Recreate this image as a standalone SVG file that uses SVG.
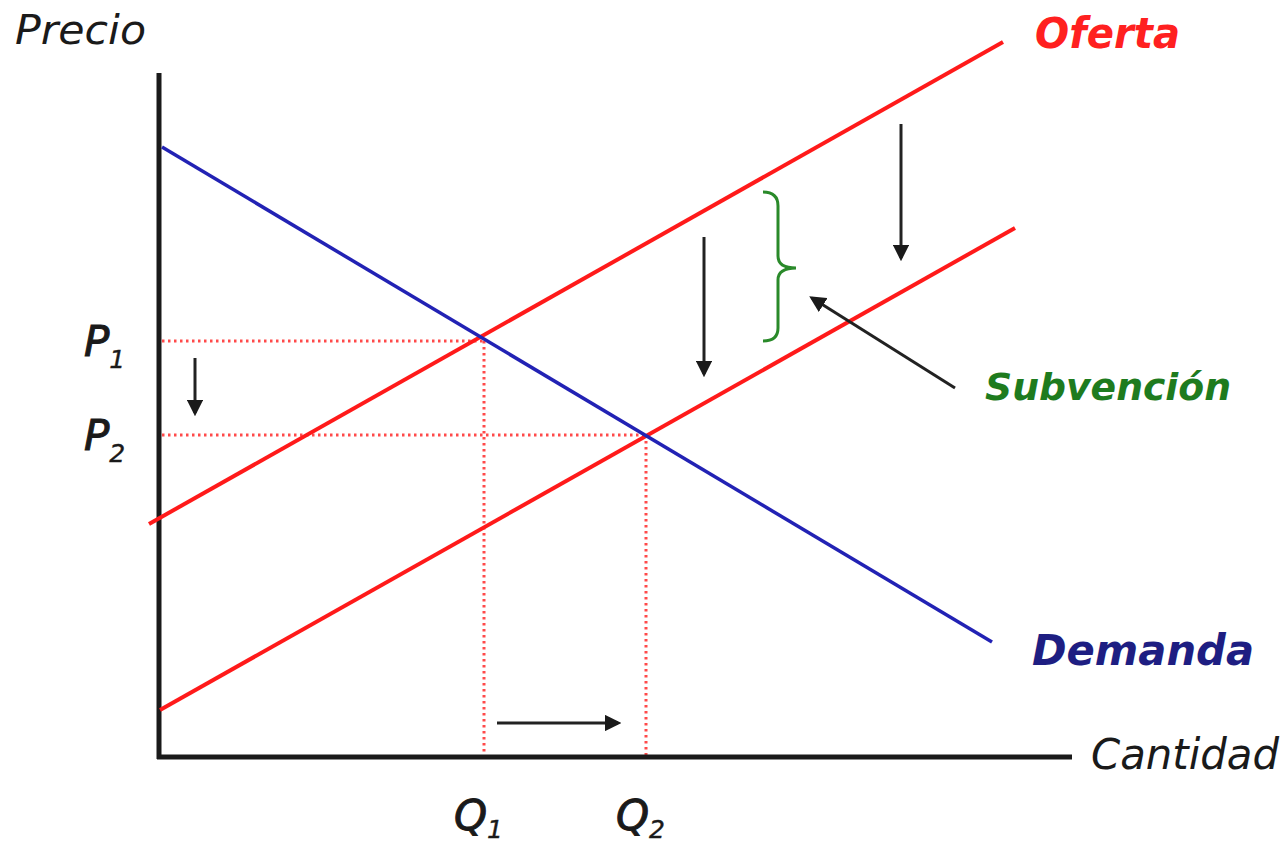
<svg xmlns="http://www.w3.org/2000/svg" width="1284" height="845" viewBox="0 0 1284 845">
<style>
.t{font-family:"DejaVu Sans","Verdana",sans-serif;font-style:oblique}
.b{font-weight:bold}
.m{stroke:#1a1a1a;stroke-width:1}
.ax{stroke:#1a1a1a;stroke-width:5;fill:none}
.sup{stroke:#ff1a1a;stroke-width:4;fill:none}
.dem{stroke:#2222b4;stroke-width:3.5;fill:none}
.dot{stroke:#ff4a4a;stroke-width:3;stroke-dasharray:2.5 3.5;fill:none}
.arr{stroke:#222;stroke-width:3;fill:none}
</style>
<defs>
<marker id="ah" viewBox="0 0 10 10" refX="8" refY="5" markerWidth="5.5" markerHeight="5.5" orient="auto" markerUnits="strokeWidth">
<path d="M0,0 L10,5 L0,10 Z" fill="#1a1a1a"/>
</marker>
</defs>
<rect width="1284" height="845" fill="#fff"/>
<g id="guides">
<line class="dot" x1="162" y1="341" x2="484" y2="341"/>
<line class="dot" x1="162" y1="435" x2="645" y2="435"/>
<line class="dot" x1="484" y1="341" x2="484" y2="755"/>
<line class="dot" x1="646" y1="435" x2="646" y2="755"/>
</g>
<g id="axes">
<line class="ax" x1="159" y1="73" x2="159" y2="759"/>
<line class="ax" x1="157" y1="757" x2="1072" y2="757"/>
</g>
<g id="curves">
<line id="oferta1" class="sup" x1="149" y1="524" x2="1003" y2="42"/>
<line id="oferta2" class="sup" x1="160" y1="710" x2="1015" y2="228"/>
<line id="demanda" class="dem" x1="162" y1="147" x2="992" y2="642"/>
</g>
<g id="connectors">
<line class="arr" x1="195" y1="358" x2="195" y2="413" marker-end="url(#ah)"/>
<line class="arr" x1="704" y1="237" x2="704" y2="374" marker-end="url(#ah)"/>
<line class="arr" x1="901" y1="124" x2="901" y2="258" marker-end="url(#ah)"/>
<line class="arr" x1="497" y1="723" x2="618" y2="723" marker-end="url(#ah)"/>
<line class="arr" x1="955" y1="388" x2="812" y2="298" marker-end="url(#ah)"/>
</g>
<g id="brace">
<path d="M763,192 Q778,192 778,206 L778,256 Q778,268 796,268 Q778,268 778,280 L778,328 Q778,341 763,341" fill="none" stroke="#2a8a2a" stroke-width="3"/>
</g>
<g id="labels">
<text class="t" x="15" y="44" font-size="41" fill="#1a1a1a" textLength="131" lengthAdjust="spacingAndGlyphs">Precio</text>
<text class="t b" x="1035" y="48" font-size="42" fill="#ff2020" textLength="145" lengthAdjust="spacingAndGlyphs">Oferta</text>
<text class="t b" x="1032" y="665" font-size="42" fill="#1e1e82" textLength="222" lengthAdjust="spacingAndGlyphs">Demanda</text>
<text class="t" x="1091" y="769" font-size="42" fill="#1a1a1a" textLength="188" lengthAdjust="spacingAndGlyphs">Cantidad</text>
<text class="t b" x="985" y="400" font-size="38" fill="#1e7b1e" textLength="246" lengthAdjust="spacingAndGlyphs">Subvención</text>
<text class="t m" x="84" y="356" font-size="42" fill="#1a1a1a">P<tspan font-size="25" stroke-width="0.4" dy="12">1</tspan></text>
<text class="t m" x="84" y="450" font-size="42" fill="#1a1a1a">P<tspan font-size="25" stroke-width="0.4" dy="12">2</tspan></text>
<text class="t m" x="454" y="830" font-size="42" fill="#1a1a1a">Q<tspan font-size="25" stroke-width="0.4" dy="8">1</tspan></text>
<text class="t m" x="616" y="830" font-size="42" fill="#1a1a1a">Q<tspan font-size="25" stroke-width="0.4" dy="8">2</tspan></text>
</g>
</svg>
